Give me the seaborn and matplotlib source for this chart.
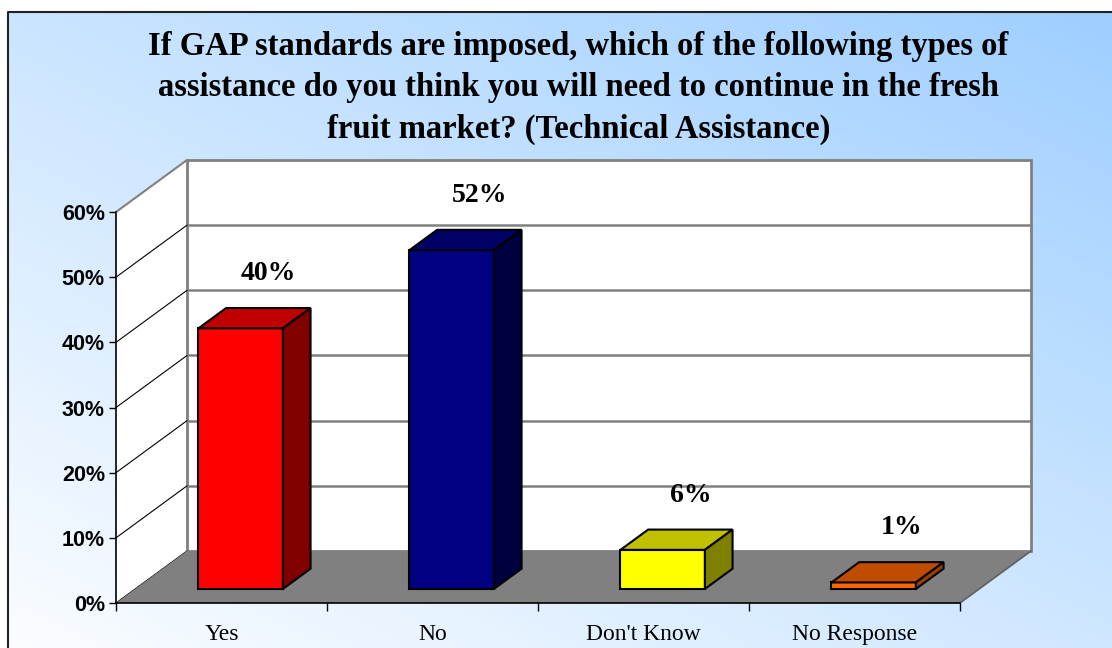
import numpy as np
import pandas as pd
import matplotlib
matplotlib.use("Agg")
import matplotlib.pyplot as plt
import seaborn as sns
from matplotlib.patches import Polygon, Rectangle
from matplotlib.colors import to_rgb

# Data
categories = ["Yes", "No", "Don't Know", "No Response"]
values = [40, 52, 6, 1]
labels = ["40%", "52%", "6%", "1%"]
front_colors = ["#ff0000", "#000080", "#ffff00", "#ff6600"]
top_colors = ["#c00000", "#000066", "#c0c000", "#c04c00"]
side_colors = ["#800000", "#000040", "#808000", "#993d00"]
yticks = [0, 10, 20, 30, 40, 50, 60]
title = ("If GAP standards are imposed, which of the following types of\n"
         "assistance do you think you will need to continue in the fresh\n"
         "fruit market? (Technical Assistance)")

df = pd.DataFrame({"cat": categories, "val": values})

# fake 3d depth (in data units)
DX, DY = 0.3365, 7.98
D0, D1 = 0.27, 0.66

sns.set_style("white")
plt.rcParams["text.color"] = "black"
plt.rcParams["xtick.color"] = "black"
plt.rcParams["ytick.color"] = "black"
fig = plt.figure(figsize=(11.12, 6.48), dpi=100)

# gradient background
bg = fig.add_axes([0, 0, 1, 1], zorder=0)
xx, yy = np.meshgrid(np.linspace(0, 1, 300), np.linspace(0, 1, 200))
t = np.clip(0.45 * xx + 0.5 * yy, 0, 1)[..., None]
c0 = np.array(to_rgb("#fbfdff"))
c1 = np.array(to_rgb("#99ccff"))
img = c0 * (1 - t) + c1 * t
bg.imshow(img, extent=[0, 1, 0, 1], origin="lower", aspect="auto")
# white margin above/left of frame
bg.add_patch(Rectangle((0, 1 - 12 / 648), 1, 12 / 648, facecolor="white", edgecolor="none"))
bg.add_patch(Rectangle((0, 0), 8 / 1112, 1, facecolor="white", edgecolor="none"))
bg.plot([8 / 1112, 8 / 1112, 1], [0, 1 - 12 / 648, 1 - 12 / 648], color="#222222", lw=1.5)
bg.set_xlim(0, 1)
bg.set_ylim(0, 1)
bg.axis("off")

ax = fig.add_axes([116 / 1112, 1 - 603 / 648, 844 / 1112, 391 / 648], zorder=1)
ax.patch.set_alpha(0)

sns.barplot(data=df, x="cat", y="val", hue="cat", palette=front_colors, saturation=1,
            width=0.4, edgecolor="black", linewidth=1.5, legend=False, ax=ax, zorder=5)

bars = list(ax.patches)
for p in bars:
    p.set_x(p.get_x() + D0 * DX)
    p.set_y(D0 * DY)
    p.set_clip_on(False)

ax.set_xlim(-0.5, 3.5)
ax.set_ylim(0, 60)

x0, x1 = -0.5, 3.5
# walls and floor
ax.add_patch(Polygon([(x0, 0), (x0, 60), (x0 + DX, 60 + DY), (x0 + DX, DY)],
                     facecolor="white", edgecolor="none", clip_on=False, zorder=1))
ax.add_patch(Rectangle((x0 + DX, DY), x1 - x0, 60, facecolor="white",
                       edgecolor="#808080", lw=2, clip_on=False, zorder=1))
ax.add_patch(Polygon([(x0, 0), (x1, 0), (x1 + DX, DY), (x0 + DX, DY)],
                     facecolor="#808080", edgecolor="none", clip_on=False, zorder=2))
ax.plot([x1, x1 + DX], [0, DY], color="#606060", lw=1.2, clip_on=False, zorder=2)
ax.plot([x0, x0 + DX], [60, 60 + DY], color="#808080", lw=1.5, clip_on=False, zorder=2)
for v in yticks[1:-1]:
    ax.plot([x0 + DX, x1 + DX], [v + DY, v + DY], color="#808080", lw=1.8,
            clip_on=False, zorder=1.5)
for v in yticks[:-1]:
    ax.plot([x0, x0 + DX], [v, v + DY], color="black", lw=0.8, clip_on=False, zorder=1.5)

# top and side faces of the bars
for i, p in enumerate(bars):
    bx0 = p.get_x()
    bx1 = bx0 + p.get_width()
    by0 = p.get_y()
    by1 = by0 + p.get_height()
    bdx, bdy = (D1 - D0) * DX, (D1 - D0) * DY
    ax.add_patch(Polygon([(bx0, by1), (bx1, by1), (bx1 + bdx, by1 + bdy), (bx0 + bdx, by1 + bdy)],
                         facecolor=top_colors[i], edgecolor="black", lw=1.5,
                         clip_on=False, zorder=5))
    ax.add_patch(Polygon([(bx1, by0), (bx1, by1), (bx1 + bdx, by1 + bdy), (bx1 + bdx, by0 + bdy)],
                         facecolor=side_colors[i], edgecolor="black", lw=1.5,
                         clip_on=False, zorder=5))
    ax.text(bx0 + p.get_width() / 2 + bdx, by1 + bdy + 5.3, labels[i],
            ha="center", va="center", fontsize=20, fontweight="bold",
            family="Liberation Serif", color="black", zorder=6)

for s in ["top", "right"]:
    ax.spines[s].set_visible(False)
for s in ["left", "bottom"]:
    ax.spines[s].set_color("black")
    ax.spines[s].set_linewidth(1.2)
    ax.spines[s].set_zorder(3)

ax.set_yticks(yticks)
ax.set_yticklabels([f"{v}%" for v in yticks], fontsize=15.5, fontweight="bold",
                   family="Liberation Sans", color="black")
ax.tick_params(axis="y", length=5, width=1, color="black", left=True, pad=3)
ax.set_xticks(range(len(categories)))
ax.set_xticklabels(categories, fontsize=17, family="Liberation Serif", color="black")
ax.set_xticks(np.arange(-0.5, 3.6, 1), minor=True)
ax.tick_params(axis="x", which="major", length=0, pad=15)
ax.tick_params(axis="x", which="minor", length=6, width=1, color="black", bottom=True)
ax.set_xlabel("")
ax.set_ylabel("")

fig.text(0.52, 1 - 88 / 648, title, ha="center", va="center", fontsize=23.5,
         fontweight="bold", family="Liberation Serif", linespacing=1.42, color="black")

plt.savefig("out.png", dpi=100)
